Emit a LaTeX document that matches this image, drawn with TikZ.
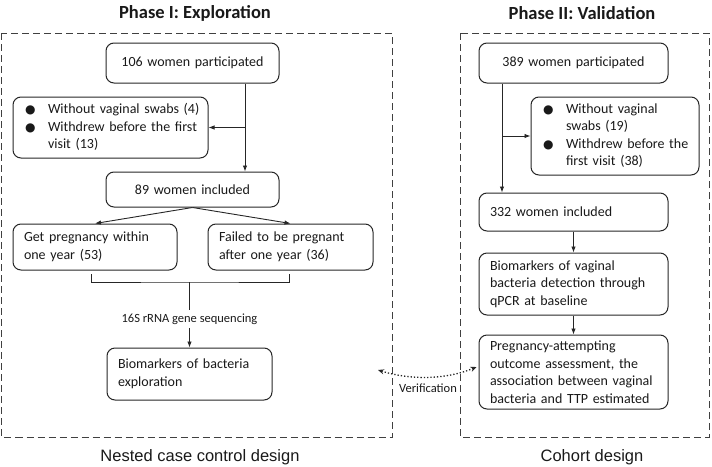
\documentclass[tikz,border=0pt]{standalone}
\usepackage{fontspec}
\setmainfont{Carlito}
\newfontfamily\arialf{Liberation Sans}
\newfontfamily\dvf{DejaVu Sans}
\usetikzlibrary{arrows.meta,calc}
\newcommand{\bulmark}{\hspace{1pt}{\dvf\fontsize{12}{12}\selectfont ●}}
\tikzset{
  box/.style={draw=black!85, line width=1pt, rounded corners=8pt, inner xsep=11pt, inner ysep=3pt,
    font=\fontsize{14}{17.5}\selectfont, text=black!90},
  lbox/.style={box, align=left},
  cbox/.style={box, align=center},
  frame/.style={draw=black!75, line width=1pt, dash pattern=on 7pt off 4pt},
  arr/.style={draw=black!85, line width=0.9pt, -{Latex[length=6pt,width=4.5pt]}},
  conn/.style={draw=black!85, line width=0.9pt},
  ttl/.style={font=\bfseries\fontsize{18.5}{22}\selectfont, text=black!90},
  foot/.style={font=\arialf\fontsize{16.5}{20}\selectfont, text=black!90},
  small/.style={font=\fontsize{12.5}{15}\selectfont, text=black!90}
}
\begin{document}
\begin{tikzpicture}[x=1pt,y=-1pt]
\useasboundingbox (0,0) rectangle (712,466);
% frames
\draw[frame] (1.5,33) rectangle (392,437);
\draw[frame] (460,33) rectangle (709,437);
% titles
\node[ttl] (t1) at (195,13) {Phase I: Exploration};
\node[ttl] (t2) at (582,13) {Phase II: Validation};
\node[foot] (f1) at (200,457) {Nested case control design};
\node[foot] (f2) at (592,457) {Cohort design};
% Phase I
\node[cbox, minimum width=173pt, minimum height=40pt, text width=151pt] (p1) at (192.5,63) {106 women participated};
\node[box, minimum width=195pt, minimum height=61pt, text width=173pt] (ex1) at (110.5,127.5)
  {\begin{tabular}{@{}p{24pt}@{}l@{}}
   \bulmark & Without vaginal swabs (4)\\
   \bulmark & Withdrew before the first\\
            & visit (13)
   \end{tabular}};
\node[cbox, minimum width=173pt, minimum height=35pt, text width=151pt] (inc1) at (192.5,189.5) {89 women included};
\node[lbox, minimum width=164pt, minimum height=46pt, text width=142pt] (get) at (95,247) {Get pregnancy within\\one year (53)};
\node[lbox, minimum width=165pt, minimum height=46pt, text width=143pt] (fail) at (290.5,247) {Failed to be pregnant\\after one year (36)};
\node[small] (seq) at (189.5,319) {16S rRNA gene sequencing};
\node[lbox, minimum width=165pt, minimum height=52pt, text width=143pt] (bio1) at (189.5,374) {Biomarkers of bacteria\\exploration};
% Phase II
\node[cbox, minimum width=189pt, minimum height=40pt, text width=167pt] (p2) at (573.5,63) {389 women participated};
\node[box, minimum width=168pt, minimum height=78pt, text width=146pt] (ex2) at (615,136)
  {\begin{tabular}{@{}p{24pt}@{}l@{}}
   \bulmark & Without vaginal\\
            & swabs (19)\\
   \bulmark & Withdrew before the\\
            & first visit (38)
   \end{tabular}};
\node[lbox, minimum width=189pt, minimum height=38pt, text width=167pt] (inc2) at (573.5,212) {332 women included};
\node[lbox, minimum width=189pt, minimum height=62pt, text width=167pt] (bio2) at (573.5,284) {Biomarkers of vaginal\\bacteria detection through\\qPCR at baseline};
\node[lbox, minimum width=189pt, minimum height=74pt, text width=167pt] (preg) at (573.5,372) {Pregnancy-attempting\\outcome assessment, the\\association between vaginal\\bacteria and TTP estimated};
\node[small] (ver) at (428,388) {Verification};
% connectors Phase I
\coordinate (c1) at (245,0);
\draw[arr] (p1.south -| c1) -- (inc1.north -| c1);
\draw[arr] (ex1.east -| c1) -- (ex1.east);
\draw[arr] (inc1.south) -- (get.north);
\draw[arr] (inc1.south) -- (fail.north);
\coordinate (bl) at (91,274);
\coordinate (br) at (289,274);
\coordinate (bm) at (189.5,282);
\draw[conn] (bl) |- (bm) -| (br);
\draw[conn] (bm) -- (seq.north);
\draw[arr] (seq.south) -- (bio1.north);
% connectors Phase II
\coordinate (c2) at (502,0);
\draw[arr] (p2.south -| c2) -- (inc2.north -| c2);
\draw[arr] (ex2.west -| c2) -- (ex2.west);
\draw[arr] (inc2.south) -- (bio2.north);
\draw[arr] (bio2.south) -- (preg.north);
% verification
\coordinate (vl) at (378,370);
\coordinate (vr) at ($(preg.west)+(-2,-5)$);
\draw[black!85, line width=1.3pt, dotted, {Stealth[length=6pt,width=5pt]}-{Stealth[length=6pt,width=5pt]}]
  (vl) .. controls (410,380) and (445,380) .. (vr);
\end{tikzpicture}
\end{document}
